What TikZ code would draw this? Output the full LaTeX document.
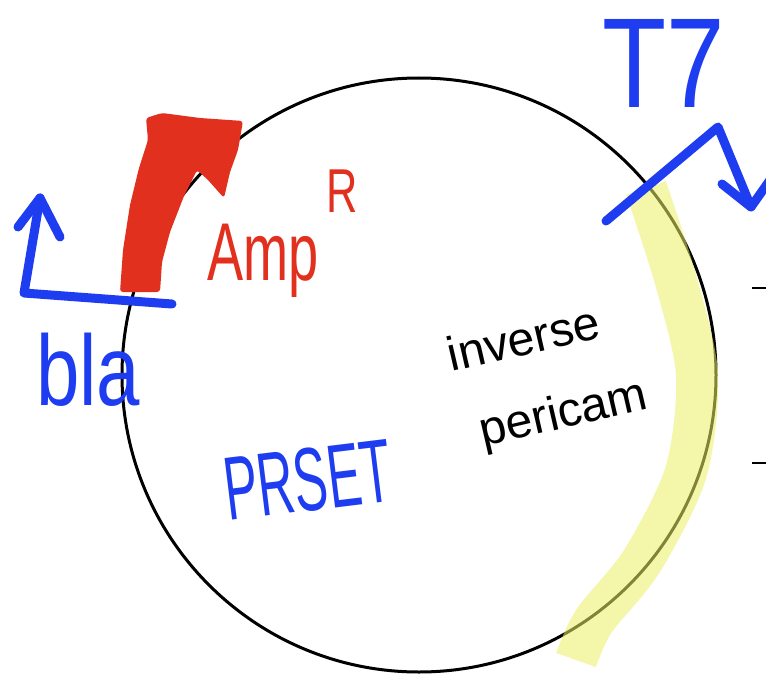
\documentclass[tikz,border=0pt]{standalone}
\usepackage{fontspec}
\setmainfont{Liberation Sans}
\usepackage{graphicx}
\usetikzlibrary{calc}
\definecolor{penblue}{RGB}{30,60,240}
\definecolor{penred}{RGB}{226,48,30}
\definecolor{hiyellow}{RGB}{236,240,100}
\tikzset{
  bluepen/.style={draw=penblue, line width=9pt, line cap=round, line join=round},
  bluetext/.style={text=penblue, inner sep=0pt},
  band/.style={draw=hiyellow, line width=42pt, opacity=0.55},
  tick/.style={draw=black, line width=2.5pt},
}
\begin{document}
\begin{tikzpicture}[x=1pt,y=-1pt]
\useasboundingbox (0,0) rectangle (766,674);
\fill[white] (0,0) rectangle (766,674);
% plasmid backbone
\node[circle, draw=black, line width=3pt, minimum size=594pt, inner sep=0pt] (plasmid) at (419,375) {};
% yellow highlight (inverse pericam)
\draw[band] plot[smooth] coordinates {(646,188) (676,281) (697,375) (686,472) (642,561) (594,621) (576,660)};
% red AmpR arrow
\fill[penred, rounded corners=3pt]
  (120,292) -- (123,250) -- (130,205) -- (139,168) -- (148,140) -- (146,118)
  -- (162,113) -- (200,118) -- (243,121) -- (238,150) -- (230,172) -- (224,198)
  -- (208,180) -- (197,170) -- (184,196) -- (170,232) -- (162,262) -- (160,292) -- cycle;
\node[text=penred, inner sep=0pt, anchor=base west] (amp) at (207,280)
  {\fontsize{82}{82}\selectfont\scalebox{0.66}[1]{Amp}};
\node[text=penred, inner sep=0pt, anchor=base west] (ampR) at (326,212)
  {\fontsize{62}{62}\selectfont\scalebox{0.7}[1]{R}};
% bla promoter
\coordinate (blaEnd) at (172,304);
\coordinate (blaCorner) at (24,293);
\coordinate (blaTip) at (40,198);
\draw[bluepen] (blaEnd) -- (blaCorner) -- (blaTip);
\draw[bluepen] (18,227) -- (blaTip) -- (60,237);
\node[bluetext, anchor=base west] (bla) at (36,405)
  {\fontsize{100}{100}\selectfont\scalebox{0.78}[1]{bla}};
% T7 promoter
\coordinate (t7Start) at (606,221);
\coordinate (t7Peak) at (718,127);
\coordinate (t7Tip) at (751,207);
\draw[bluepen] (t7Start) -- (t7Peak) -- (t7Tip);
\draw[bluepen] (722,184) -- (t7Tip) -- (770,180);
\node[bluetext, anchor=base west] (t7) at (602,108)
  {\fontsize{128}{128}\selectfont\scalebox{0.82}[1]{T7}};
% PRSET
\node[bluetext, anchor=base west, rotate=7] (prset) at (228,521)
  {\fontsize{90}{90}\selectfont\scalebox{0.56}[1]{PRSET}};
% inverse pericam
\node[inner sep=0pt, rotate=13, align=left, font=\fontsize{48}{80}\selectfont] (label) at (548,378)
  {inverse\\\hspace{14pt}pericam};
% small ticks at right edge
\draw[tick] (752,288) -- (766,288);
\draw[tick] (752,463) -- (766,463);
\end{tikzpicture}
\end{document}
